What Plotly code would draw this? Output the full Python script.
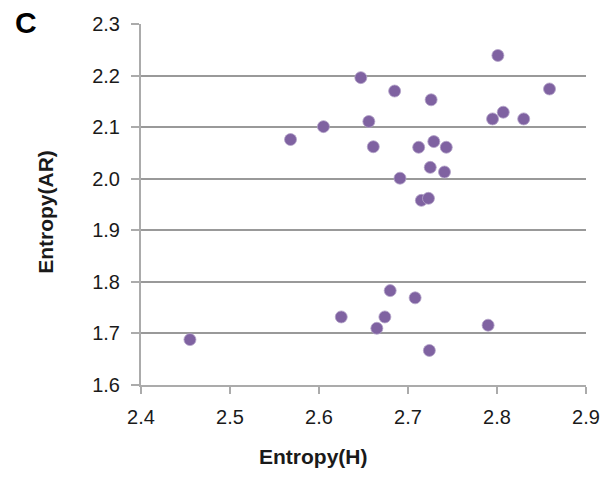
import plotly.graph_objects as go

entropy_h = [2.568, 2.605, 2.647, 2.656, 2.661, 2.685, 2.691, 2.712, 2.715, 2.723,
             2.725, 2.726, 2.729, 2.741, 2.743, 2.801, 2.795, 2.807, 2.830, 2.859,
             2.455, 2.625, 2.680, 2.708, 2.674, 2.665, 2.790, 2.724]
entropy_ar = [2.076, 2.101, 2.196, 2.111, 2.062, 2.170, 2.001, 2.061, 1.958, 1.962,
              2.022, 2.153, 2.072, 2.013, 2.061, 2.239, 2.116, 2.129, 2.116, 2.174,
              1.688, 1.732, 1.783, 1.769, 1.732, 1.710, 1.716, 1.667]

x_ticks = [2.4, 2.5, 2.6, 2.7, 2.8, 2.9]
y_ticks = [1.6, 1.7, 1.8, 1.9, 2.0, 2.1, 2.2, 2.3]

FONT = "Liberation Sans, Arial, sans-serif"

fig = go.Figure(go.Scatter(
    x=entropy_h, y=entropy_ar, mode="markers",
    marker=dict(size=12, color="#7f62a1", line=dict(width=0.8, color="#b3a2c8")),
    showlegend=False,
))

fig.update_layout(
    width=612, height=477,
    margin=dict(l=140.5, r=18.7, t=24, b=92.3),
    paper_bgcolor="white", plot_bgcolor="white",
    font=dict(family=FONT, size=20, color="#1a1a1a"),
    xaxis=dict(range=[2.4, 2.9], tickvals=x_ticks, ticktext=[f"{v:.1f}" for v in x_ticks],
               showgrid=False, zeroline=False, showline=True, linecolor="#ababab", linewidth=2,
               ticks="outside", ticklen=7, tickwidth=2, tickcolor="#ababab",
               ticklabelstandoff=6,
               tickfont=dict(size=20, family=FONT, color="#1a1a1a")),
    yaxis=dict(range=[1.6, 2.3], tickvals=y_ticks, ticktext=[f"{v:.1f}" for v in y_ticks],
               showgrid=True, gridcolor="#999999", gridwidth=1.5, zeroline=False,
               showline=True, linecolor="#ababab", linewidth=2,
               ticks="outside", ticklen=8, tickwidth=2, tickcolor="#ababab",
               ticklabelstandoff=7,
               tickfont=dict(size=20, family=FONT, color="#1a1a1a")),
    annotations=[
        dict(text="<b>Entropy(H)</b>", xref="paper", yref="paper", x=0.3876, y=-0.1977,
             showarrow=False, xanchor="center", yanchor="middle",
             font=dict(size=21, family=FONT, color="#1a1a1a")),
        dict(text="<b>Entropy(AR)</b>", xref="paper", yref="paper", x=-0.2164, y=0.4788,
             showarrow=False, xanchor="center", yanchor="middle", textangle=-90,
             font=dict(size=21, family=FONT, color="#1a1a1a")),
        dict(text="<b>C</b>", xref="paper", yref="paper", x=(23.8 - 140.5) / 452.8,
             y=(384.7 - 22.5) / 360.7,
             showarrow=False, xanchor="center", yanchor="middle",
             font=dict(size=30, family=FONT, color="#000000")),
    ],
)

fig.write_html("out.html")
